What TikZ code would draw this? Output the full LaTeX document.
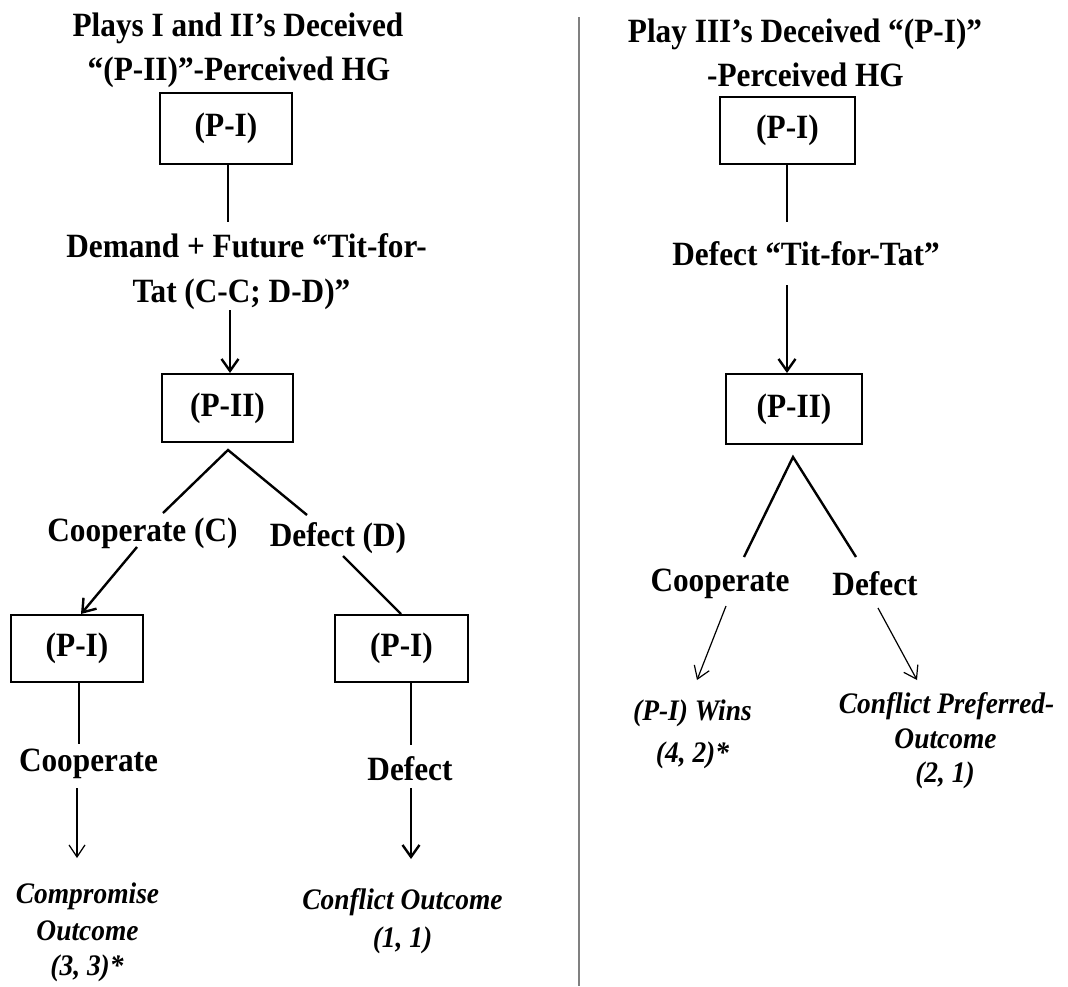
\documentclass[tikz,border=0pt]{standalone}
\usepackage{fontspec}
\setmainfont[FakeStretch=0.92]{Liberation Serif}
\usetikzlibrary{arrows.meta}
\begin{document}
\begin{tikzpicture}[x=1pt,y=-1pt,
  lbl/.style={anchor=base,inner sep=0pt,font=\fontsize{34}{40}\selectfont\bfseries},
  outc/.style={anchor=base,inner sep=0pt,font=\fontsize{29.8}{35}\selectfont\bfseries\itshape},
  pbox/.style={draw,line width=2pt,inner sep=0pt,font=\fontsize{34}{40}\selectfont\bfseries},
  edge/.style={line width=2.4pt},
  thinedge/.style={line width=1.2pt},
  arr/.style={-{Straight Barb[length=12pt,width=17pt,line width=2.4pt]}},
  tarr/.style={-{Straight Barb[length=12pt,width=16pt,line width=1.2pt]}}
]
\useasboundingbox (0,0) rectangle (1068,986);
\fill[white] (0,0) rectangle (1068,986);

% divider
\coordinate (dvt) at (579,17);
\coordinate (dvb) at (579,986);
\draw[line width=1.5pt,gray] (dvt) -- (dvb);

% ---------------- left tree ----------------
\node[lbl] (t1a) at (238,36) {Plays I and II’s Deceived};
\node[lbl] (t1b) at (239,80) {“(P-II)”-Perceived HG};
\node[pbox,minimum width=132pt,minimum height=71pt] (a1) at (226,128.5) {(P-I)};
\node[lbl] (d1a) at (246.5,257) {Demand + Future “Tit-for-};
\node[lbl] (d1b) at (241.5,302) {Tat (C-C; D-D)”};
\node[pbox,minimum width=131pt,minimum height=68pt] (a2) at (227.5,408) {(P-II)};
\node[lbl] (c1) at (142.5,541) {Cooperate (C)};
\node[lbl] (e1) at (338,546) {Defect (D)};
\node[pbox,minimum width=132pt,minimum height=67pt] (a3) at (77,648.5) {(P-I)};
\node[pbox,minimum width=133pt,minimum height=67pt] (a4) at (401.5,648.5) {(P-I)};
\node[lbl] (c2) at (88.5,771) {Cooperate};
\node[lbl] (e2) at (410,780) {Defect};
\node[outc] (o1a) at (87.5,903) {Compromise};
\node[outc] (o1b) at (87.5,940) {Outcome};
\node[outc] (o1c) at (87,975) {(3, 3)*};
\node[outc] (o2a) at (402.5,909) {Conflict Outcome};
\node[outc] (o2b) at (402.5,947) {(1, 1)};

\coordinate (k1) at (228,222);
\coordinate (k2) at (230,310);
\coordinate (ap1) at (228,450);
\coordinate (k3) at (163,513);
\coordinate (k4) at (307,515);
\coordinate (k5) at (137,547);
\coordinate (k6) at (343,556);
\coordinate (k7) at (79,744);
\coordinate (k8) at (411,745);
\coordinate (k9) at (77,788);
\coordinate (k10) at (77,858);
\coordinate (k11) at (411,788);
\coordinate (k12) at (411,859);

\draw[edge] (a1.south -| k1) -- (k1);
\draw[edge,arr] (k2) -- (a2.north -| k2);
\draw[edge] (k3) -- (ap1) -- (k4);
\draw[edge,arr] (k5) -- (a3.north -| 81,0);
\draw[edge] (k6) -- (a4.north -| 401,0);
\draw[edge] (a3.south -| k7) -- (k7);
\draw[edge] (a4.south -| k8) -- (k8);
\draw[thinedge,tarr] (k9) -- (k10);
\draw[edge,arr] (k11) -- (k12);

% ---------------- right tree ----------------
\node[lbl] (r1a) at (805,42) {Play III’s Deceived “(P-I)”};
\node[lbl] (r1b) at (805.5,86) {-Perceived HG};
\node[pbox,minimum width=135pt,minimum height=67pt] (b1) at (787.5,130.5) {(P-I)};
\node[lbl] (rd) at (806,265) {Defect “Tit-for-Tat”};
\node[pbox,minimum width=136pt,minimum height=70pt] (b2) at (794,409) {(P-II)};
\node[lbl] (rc) at (720,591) {Cooperate};
\node[lbl] (re) at (875,595) {Defect};
\node[outc] (w1a) at (692.5,720) {(P-I) Wins};
\node[outc] (w1b) at (692.5,762) {(4, 2)*};
\node[outc] (w2a) at (946.5,713) {Conflict Preferred-};
\node[outc] (w2b) at (945.5,748) {Outcome};
\node[outc] (w2c) at (945,782) {(2, 1)};

\coordinate (m1) at (787,222);
\coordinate (m2) at (787,285);
\coordinate (ap2) at (793,457);
\coordinate (m3) at (744,557);
\coordinate (m4) at (856,557);
\coordinate (m5) at (726,606);
\coordinate (m6) at (697,680);
\coordinate (m7) at (878,608);
\coordinate (m8) at (917,680);

\draw[edge] (b1.south -| m1) -- (m1);
\draw[edge,arr] (m2) -- (b2.north -| m2);
\draw[edge] (m3) -- (ap2) -- (m4);
\draw[thinedge,tarr] (m5) -- (m6);
\draw[thinedge,tarr] (m7) -- (m8);
\end{tikzpicture}
\end{document}
